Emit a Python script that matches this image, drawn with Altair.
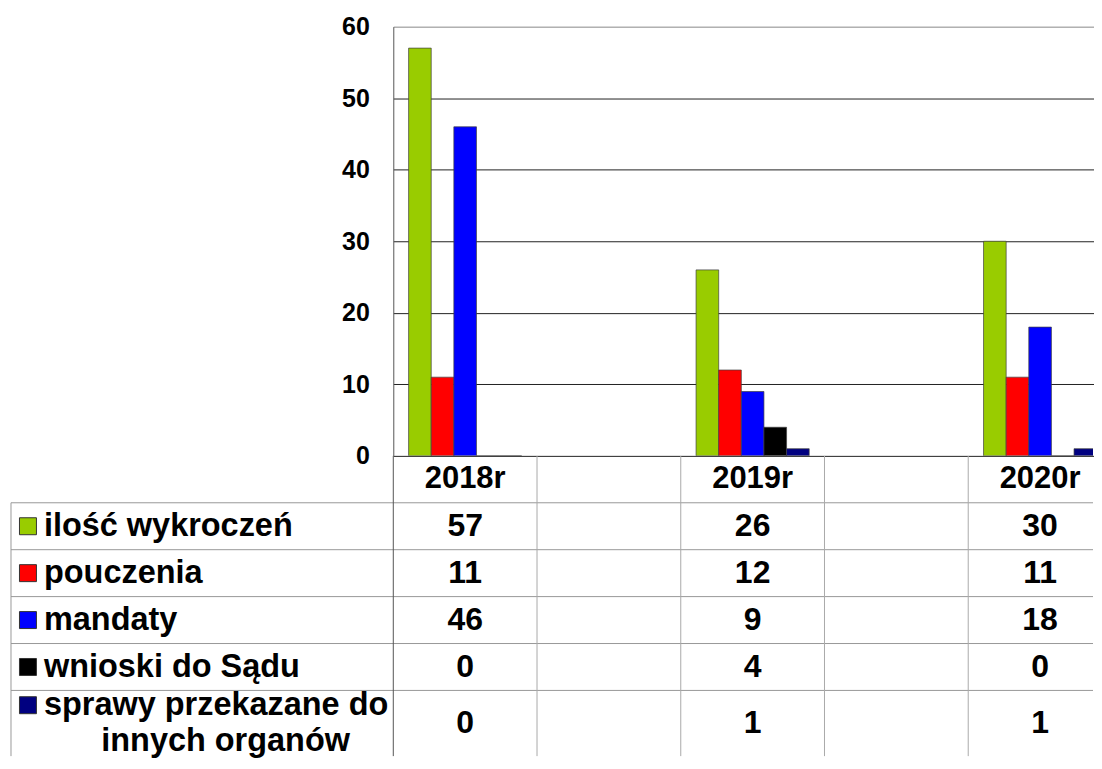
import altair as alt
import pandas as pd

FONT = "Liberation Sans"

# ---- data -------------------------------------------------------------
years = ["2018r", "2019r", "2020r"]
columns = ["2018r", "gap1", "2019r", "gap2", "2020r"]   # table / axis columns (gaps are empty)
series_keys = ["ilosc", "pouczenia", "mandaty", "wnioski", "sprawy"]
series_labels = ["ilość wykroczeń", "pouczenia", "mandaty", "wnioski do Sądu",
                 "sprawy przekazane do\ninnych organów"]
colors = ["#99CC00", "#FF0000", "#0000FF", "#000000", "#000080"]

ilosc = [57, 26, 30]
pouczenia = [11, 12, 11]
mandaty = [46, 9, 18]
wnioski = [0, 4, 0]
sprawy = [0, 1, 1]
y_ticks = [0, 10, 20, 30, 40, 50, 60]

values = [ilosc, pouczenia, mandaty, wnioski, sprawy]

# ---- layout constants ---------------------------------------------------
COL_W = 144
SCALE_W = COL_W * len(columns)   # the last column runs past the visible edge
PLOT_W = 701
PLOT_H = 430
LABEL_W = 383
UNIT = 47          # px per single-line table row
EXTRA_LINE = 0.4   # extra row height per wrapped line (row is cut at the bottom)
LINE_SP = 0.77     # spacing between wrapped lines (in row units)

# ---- derived tables -----------------------------------------------------
bar_rows = []
for key, vals in zip(series_keys, values):
    for yr, v in zip(years, vals):
        bar_rows.append({"col": yr, "series": key, "value": v})
bar_df = pd.DataFrame(bar_rows)

row_heights = [1] + [1 + EXTRA_LINE * (len(lbl.split("\n")) - 1) for lbl in series_labels]
edges = [0]
for h in row_heights:
    edges.append(edges[-1] + h)
TOTAL = edges[-1]
TABLE_H = TOTAL * UNIT

header_df = pd.DataFrame({"col": years, "y": [(edges[0] + edges[1]) / 2] * len(years), "text": years})

val_rows = []
for i, vals in enumerate(values):
    mid = (edges[i + 1] + edges[i + 2]) / 2
    for yr, v in zip(years, vals):
        val_rows.append({"col": yr, "y": mid, "text": str(v)})
val_df = pd.DataFrame(val_rows)

first_rows, cont_rows, sq_rows = [], [], []
for i, (key, lbl) in enumerate(zip(series_keys, series_labels)):
    lines = lbl.split("\n")
    mid = (edges[i + 1] + edges[i + 2]) / 2
    n = len(lines)
    for k, ln in enumerate(lines):
        yy = mid + (k - (n - 1) / 2) * LINE_SP
        if k == 0:
            first_rows.append({"y": yy, "text": ln})
            sq_rows.append({"y": yy, "series": key})
        else:
            cont_rows.append({"y": yy, "text": ln})
first_df = pd.DataFrame(first_rows)
cont_df = pd.DataFrame(cont_rows)
sq_df = pd.DataFrame(sq_rows)

hline_df = pd.DataFrame({"y": edges[1:-1]})
border_df = pd.DataFrame({"y": [edges[1]], "y2": [TOTAL]})
vline_df = pd.DataFrame({"col": columns, "y": [0] * len(columns), "y2": [TOTAL] * len(columns),
                         "kind": ["axis"] + ["inner"] * (len(columns) - 1)})

color_scale = alt.Scale(domain=series_keys, range=colors)
y_tab = alt.Scale(domain=[0, TOTAL], reverse=True, nice=False, zero=False)
x_tab = alt.Scale(domain=columns, range=[0, SCALE_W], paddingInner=0, paddingOuter=0)

# ---- top bar chart --------------------------------------------------------
bars = alt.Chart(bar_df).mark_bar(stroke="#404040", strokeWidth=0.7, clip=True).encode(
    x=alt.X("col:N",
            scale=alt.Scale(domain=columns, range=[0, SCALE_W], paddingInner=0.213, paddingOuter=0.1065),
            axis=None),
    xOffset=alt.XOffset("series:N", scale=alt.Scale(domain=series_keys, paddingInner=0, paddingOuter=0)),
    y=alt.Y("value:Q",
            scale=alt.Scale(domain=[0, 60], nice=False),
            axis=alt.Axis(values=y_ticks, title=None, ticks=False, labelPadding=24,
                          labelFontSize=25, labelFontWeight="bold", labelFont=FONT,
                          labelColor="black", grid=True, gridWidth=1,
                          gridColor={"condition": {"test": "datum.value == 60", "value": "#888888"},
                                     "value": "#222222"},
                          domainColor="#555555")),
    color=alt.Color("series:N", scale=color_scale, legend=None),
).properties(width=PLOT_W, height=PLOT_H)

# ---- table (label column hangs to the left of the plot area) ------------
t_hlines = alt.Chart(hline_df).mark_rule(color="#999999", strokeWidth=1).encode(
    x=alt.value(-LABEL_W), x2=alt.value(PLOT_W),
    y=alt.Y("y:Q", scale=y_tab, axis=None))
t_border = alt.Chart(border_df).mark_rule(color="#999999", strokeWidth=1).encode(
    x=alt.value(-LABEL_W), y=alt.Y("y:Q", scale=y_tab, axis=None), y2="y2:Q")
t_vlines = alt.Chart(vline_df).mark_rule(strokeWidth=1).encode(
    x=alt.X("col:N", scale=x_tab, axis=None, bandPosition=0),
    y=alt.Y("y:Q", scale=y_tab, axis=None), y2="y2:Q",
    stroke=alt.Stroke("kind:N", scale=alt.Scale(domain=["axis", "inner"], range=["#555555", "#aaaaaa"]),
                      legend=None))
t_sq = alt.Chart(sq_df).mark_square(size=289, stroke="#333333", strokeWidth=1, opacity=1).encode(
    x=alt.value(-LABEL_W + 17),
    y=alt.Y("y:Q", scale=y_tab, axis=None),
    color=alt.Color("series:N", scale=color_scale, legend=None))
t_first = alt.Chart(first_df).mark_text(align="left", baseline="middle", font=FONT,
                                         fontWeight="bold", fontSize=32.5, color="black").encode(
    x=alt.value(-LABEL_W + 33), y=alt.Y("y:Q", scale=y_tab, axis=None), text="text:N")
t_cont = alt.Chart(cont_df).mark_text(align="center", baseline="middle", font=FONT,
                                       fontWeight="bold", fontSize=32.5, color="black").encode(
    x=alt.value(-LABEL_W + 215), y=alt.Y("y:Q", scale=y_tab, axis=None), text="text:N")
t_head = alt.Chart(header_df).mark_text(align="center", baseline="middle", font=FONT,
                                         fontWeight="bold", fontSize=31, color="black").encode(
    x=alt.X("col:N", scale=x_tab, axis=None),
    y=alt.Y("y:Q", scale=y_tab, axis=None), text="text:N")
t_vals = alt.Chart(val_df).mark_text(align="center", baseline="middle", font=FONT,
                                      fontWeight="bold", fontSize=32, color="black").encode(
    x=alt.X("col:N", scale=x_tab, axis=None),
    y=alt.Y("y:Q", scale=y_tab, axis=None), text="text:N")

table = alt.layer(t_hlines, t_border, t_vlines, t_sq, t_first, t_cont, t_head, t_vals).properties(
    width=PLOT_W, height=TABLE_H)

chart = alt.vconcat(bars, table, spacing=0, bounds="flush").properties(
    padding={"left": 2, "top": 5, "right": 0, "bottom": 0}
).configure_view(stroke="transparent")

chart.save("out.html", embed_options={"renderer": "svg", "actions": False})
